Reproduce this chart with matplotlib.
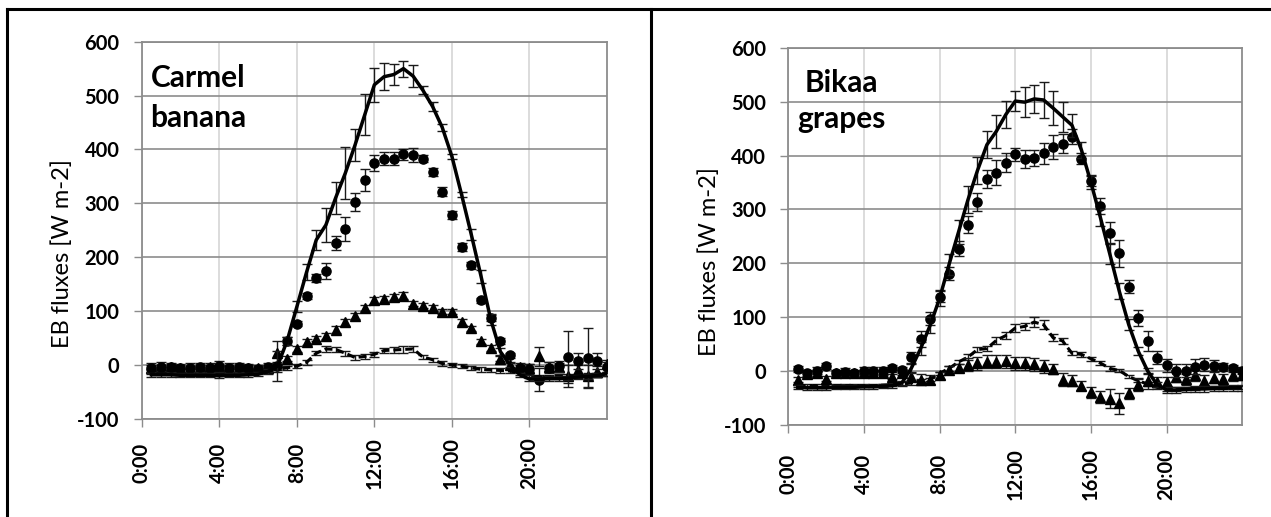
import numpy as np
import matplotlib
matplotlib.use("Agg")
import matplotlib.pyplot as plt
from matplotlib.lines import Line2D

plt.rcParams['font.family'] = ['Lato', 'DejaVu Sans']
plt.rcParams['axes.unicode_minus'] = False

# half-hourly time stamps (hours), 0:30 ... 24:00
hours = np.arange(1, 49) * 0.5

tick_hours = [0, 4, 8, 12, 16, 20]
tick_labels = ["0:00", "4:00", "8:00", "12:00", "16:00", "20:00"]
y_ticks = [-100, 0, 100, 200, 300, 400, 500, 600]
y_tick_labels = ["-100", "0", "100", "200", "300", "400", "500", "600"]

# ---- Carmel banana ----
banana_rn = [-18, -18, -18, -19, -19, -19, -19, -20, -19, -19, -18, -17,
             -12, -2, 45, 108, 172, 232, 260, 310, 356, 408, 464, 520,
             535, 539, 550, 536, 510, 480, 441, 387, 316, 242, 165, 85,
             25, 0, -18, -26, -26, -25, -25, -24, -22, -21, -19, -16]
banana_rn_err = [4, 4, 4, 4, 4, 4, 4, 4, 4, 4, 4, 4,
                 4, 28, 8, 10, 15, 18, 32, 30, 48, 30, 38, 32,
                 25, 20, 15, 20, 8, 8, 6, 5, 5, 10, 12, 10,
                 6, 4, 4, 4, 4, 4, 4, 4, 4, 4, 4, 4]
banana_le = [-5, -3, -4, -6, -5, -4, -5, -2, -5, -4, -6, -7,
             -4, -2, 45, 77, 128, 162, 175, 226, 252, 303, 343, 375,
             383, 383, 391, 389, 383, 358, 322, 278, 219, 185, 120, 87,
             45, 18, -5, -8, -27, -5, -2, 15, 7, 13, 8, -4]
banana_le_err = [8, 8, 8, 8, 8, 8, 8, 10, 8, 8, 8, 8,
                 8, 8, 8, 5, 5, 7, 15, 13, 22, 17, 20, 15,
                 12, 12, 10, 13, 7, 8, 8, 7, 7, 7, 5, 5,
                 5, 5, 8, 10, 22, 10, 10, 48, 15, 55, 15, 10]
banana_h = [-5, -5, -3, -5, -6, -5, -4, -6, -5, -6, -5, -6,
            -5, 23, 12, 30, 43, 49, 54, 66, 79, 91, 106, 120,
            122, 126, 129, 114, 110, 106, 99, 99, 80, 68, 44, 32,
            12, 0, -4, -6, 16, -3, -4, -20, -10, -20, -12, 2]
banana_h_err = [5, 5, 5, 5, 5, 5, 5, 5, 5, 5, 5, 5,
                5, 22, 5, 5, 5, 5, 6, 6, 7, 6, 6, 6,
                6, 6, 6, 5, 5, 5, 5, 5, 5, 5, 5, 5,
                5, 5, 5, 8, 18, 8, 8, 20, 10, 20, 10, 8]
banana_g = [-12, -12, -12, -12, -12, -12, -12, -12, -12, -12, -12, -12,
            -10, -8, -5, -2, 5, 22, 30, 29, 22, 14, 16, 20,
            27, 28, 29, 30, 15, 10, 3, 0, -2, -5, -8, -9,
            -10, -11, -15, -20, -22, -22, -21, -21, -20, -19, -18, -16]
banana_g_err = [4] * 18 + [5, 5, 5, 5, 5, 5, 5, 5, 6, 6] + [4] * 20

# ---- Bikaa grapes ----
grapes_rn = [-30, -31, -31, -31, -30, -30, -30, -29, -29, -28, -27, -22,
             5, 42, 85, 135, 198, 258, 318, 372, 420, 445, 476, 501,
             499, 505, 503, 488, 472, 456, 410, 350, 285, 217, 148, 86,
             37, 0, -25, -35, -35, -34, -33, -33, -32, -32, -31, -31]
grapes_rn_err = [4, 4, 4, 4, 4, 4, 4, 4, 4, 4, 4, 4,
                 8, 12, 15, 15, 20, 22, 25, 25, 25, 31, 25, 19,
                 28, 26, 34, 32, 28, 21, 15, 12, 15, 18, 15, 10,
                 8, 6, 5, 5, 5, 5, 5, 5, 5, 5, 5, 5]
grapes_le = [4, -3, 1, 10, -3, -1, -3, 1, 1, 1, 5, 2,
             26, 60, 97, 138, 181, 227, 272, 314, 356, 368, 387, 402,
             394, 396, 404, 416, 422, 435, 394, 353, 306, 257, 219, 157,
             99, 56, 25, 11, 1, 1, 8, 12, 10, 8, 5, 1]
grapes_le_err = [6, 6, 6, 6, 6, 6, 6, 6, 6, 6, 6, 6,
                 10, 15, 12, 10, 12, 14, 16, 17, 17, 23, 17, 12,
                 17, 15, 20, 22, 18, 14, 10, 10, 15, 20, 25, 12,
                 15, 18, 12, 12, 12, 12, 14, 12, 10, 8, 6, 6]
grapes_h = [-16, -5, -4, -14, -4, -3, -4, -3, -3, -3, -10, -3,
            -10, -16, -16, -8, 3, 6, 12, 15, 17, 17, 18, 15,
            15, 13, 9, 4, -16, -18, -27, -39, -48, -51, -60, -41,
            -25, -18, -20, -20, -10, -15, -8, -18, -12, -15, -8, -7]
grapes_h_err = [5, 5, 5, 5, 5, 5, 5, 5, 5, 5, 5, 5,
                8, 10, 8, 6, 6, 8, 12, 12, 12, 12, 12, 12,
                12, 12, 12, 10, 12, 10, 8, 10, 12, 18, 20, 10,
                12, 15, 10, 10, 10, 10, 10, 10, 10, 10, 10, 10]
grapes_g = [-27, -27, -27, -27, -27, -27, -27, -27, -27, -26, -25, -24,
            -22, -18, -15, -4, 5, 17, 26, 40, 42, 57, 66, 80,
            83, 91, 86, 62, 56, 33, 31, 23, 15, 5, 1, -10,
            -18, -24, -30, -33, -33, -32, -32, -31, -31, -30, -30, -30]
grapes_g_err = [3] * 16 + [4, 4, 5, 5, 5, 6, 6, 7, 7, 10, 8, 6, 6, 4, 4, 4, 4, 4] + [3] * 14

GRID_DARK = '#8c8c8c'
GRID_LIGHT = '#d6d6d6'

fig = plt.figure(figsize=(12.71, 5.17), dpi=100)


def draw_panel(rect, rn, rn_err, le, le_err, h, h_err, g, g_err,
               label_pad):
    ax = fig.add_axes(rect)
    eb = dict(ecolor='#1a1a1a', elinewidth=1.0, capsize=3.6, capthick=1.0)
    ax.errorbar(hours, g, yerr=g_err, fmt='none', zorder=3, **eb)
    ax.plot(hours, g, color='black', lw=2.2, ls=(0, (2.6, 1.3)), zorder=3)
    ax.errorbar(hours, h, yerr=h_err, fmt='^', color='black', ms=7.8,
                zorder=4, **eb)
    ax.errorbar(hours, le, yerr=le_err, fmt='o', color='black', ms=6.6,
                zorder=5, **eb)
    ax.errorbar(hours, rn, yerr=rn_err, fmt='-', color='black', lw=2.5,
                zorder=6, **eb)

    ax.set_xlim(0, 24)
    ax.set_ylim(-100, 600)
    ax.set_yticks(y_ticks, labels=y_tick_labels, fontweight='bold',
                  fontsize=14.5)
    ax.set_xticks(tick_hours, labels=tick_labels, rotation=90, va='center',
                  fontweight='bold', fontsize=14.5)
    ax.tick_params(axis='x', length=6, width=1, color=GRID_DARK,
                   pad=label_pad)
    ax.tick_params(axis='y', length=6, width=1, color=GRID_DARK, pad=10)
    ax.grid(axis='y', color=GRID_DARK, lw=1.2, zorder=0)
    ax.grid(axis='x', color=GRID_LIGHT, lw=1.2, zorder=0)
    ax.set_axisbelow(True)
    for sp in ax.spines.values():
        sp.set_color(GRID_DARK)
        sp.set_linewidth(1.3)
    return ax


ax1 = draw_panel([0.1115, 0.1896, 0.3661, 0.7298],
                 banana_rn, banana_rn_err, banana_le, banana_le_err,
                 banana_h, banana_h_err, banana_g, banana_g_err, 26)
ax2 = draw_panel([0.6202, 0.1779, 0.3572, 0.7298],
                 grapes_rn, grapes_rn_err, grapes_le, grapes_le_err,
                 grapes_h, grapes_h_err, grapes_g, grapes_g_err, 29)

W, H = 1271.0, 517.0


def fig_text(x, y, s, **kw):
    fig.text(x / W, 1 - y / H, s, **kw)


lab_kw = dict(rotation=90, ha='center', va='center', fontsize=17)
fig_text(62, 254, "EB fluxes [W m-2]", **lab_kw)
fig_text(709, 262, "EB fluxes [W m-2]", **lab_kw)

name_kw = dict(ha='left', va='baseline', fontsize=21.5, fontweight='bold')
fig_text(151, 86.7, "Carmel", **name_kw)
fig_text(150, 126.7, "banana", **name_kw)
fig_text(805, 91.7, "Bikaa", **name_kw)
fig_text(797, 128.3, "grapes", **name_kw)

# table-like frame around the two panels
frame_kw = dict(color='black', lw=2.2, transform=fig.transFigure)
fig.add_artist(Line2D([7 / W, 1.0], [1 - 9 / H, 1 - 9 / H], **frame_kw))
fig.add_artist(Line2D([7 / W, 7 / W], [0, 1 - 9 / H], **frame_kw))
fig.add_artist(Line2D([650.7 / W, 650.7 / W], [0, 1 - 9 / H], **frame_kw))

fig.savefig("out.png", dpi=100)
